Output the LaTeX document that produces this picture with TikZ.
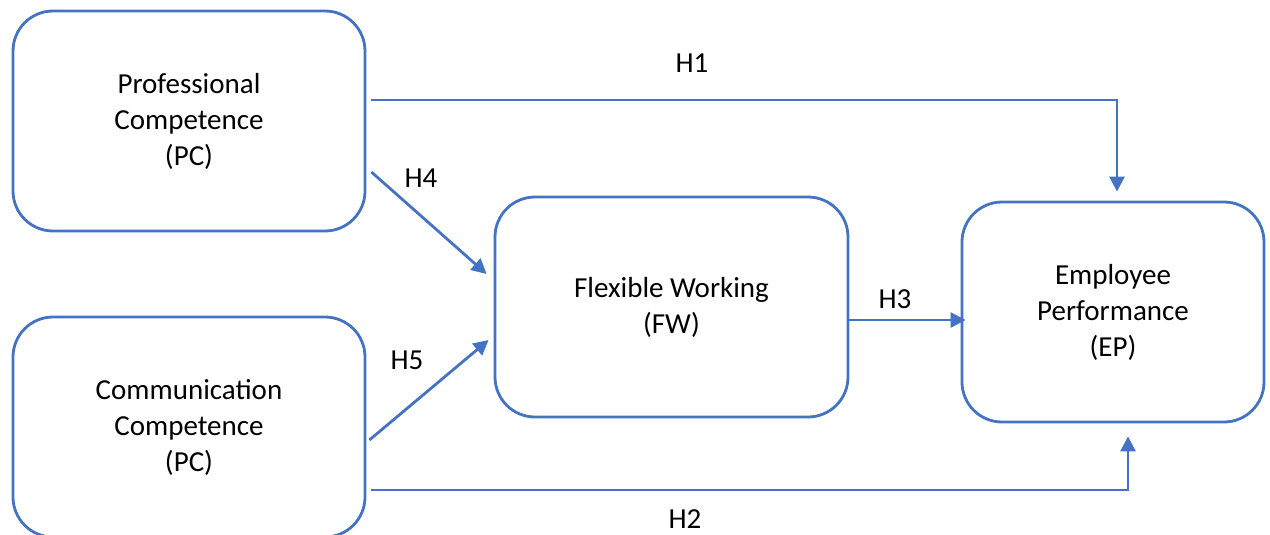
\documentclass[tikz,border=0pt]{standalone}
\usepackage{fontspec}
\setmainfont{Carlito}
\usetikzlibrary{arrows.meta}
\definecolor{officeblue}{HTML}{4472C4}
\tikzset{
  construct/.style={draw=officeblue, line width=2.8pt, rounded corners=40pt,
    align=center, inner sep=0pt, font=\fontsize{29}{36}\selectfont},
  link/.style={draw=officeblue, line width=2.8pt,
    -{Triangle[length=15pt,width=15pt]}},
  hyp/.style={font=\fontsize{29}{30}\selectfont, inner sep=0pt}
}
\begin{document}
\begin{tikzpicture}[x=1pt, y=-1pt]
\useasboundingbox (0,0) rectangle (1270,535);

% constructs
\node[construct, minimum width=352pt, minimum height=220pt] (pc) at (189,121)
  {Professional\\Competence\\(PC)};
\node[construct, minimum width=352pt, minimum height=220pt] (cc) at (189,427)
  {Communication\\Competence\\(PC)};
\node[construct, minimum width=353pt, minimum height=220pt] (fw) at (671.5,307)
  {Flexible Working\\(FW)};
\node[construct, minimum width=302pt, minimum height=220pt] (ep) at (1113,312)
  {Employee\\Performance\\(EP)};

% hypothesised paths
\draw[link] ([shift={(5,-21)}]pc.east) -| ([shift={(4,-9)}]ep.north);
\draw[link] ([shift={(5,51)}]pc.east) -- ([shift={(-7,-33)}]fw.west);
\draw[link] ([shift={(3,13)}]cc.east) -- ([shift={(-5,33)}]fw.west);
\draw[link] ([shift={(0,13)}]fw.east) -- ([shift={(5,8)}]ep.west);
\draw[link] ([shift={(5,63)}]cc.east) -| ([shift={(15,13)}]ep.south);

% path labels
\node[hyp] (h1) at (692,63) {H1};
\node[hyp] (h4) at (421,178) {H4};
\node[hyp] (h5) at (407,360) {H5};
\node[hyp] (h3) at (895,299) {H3};
\node[hyp] (h2) at (685,519) {H2};
\end{tikzpicture}
\end{document}
